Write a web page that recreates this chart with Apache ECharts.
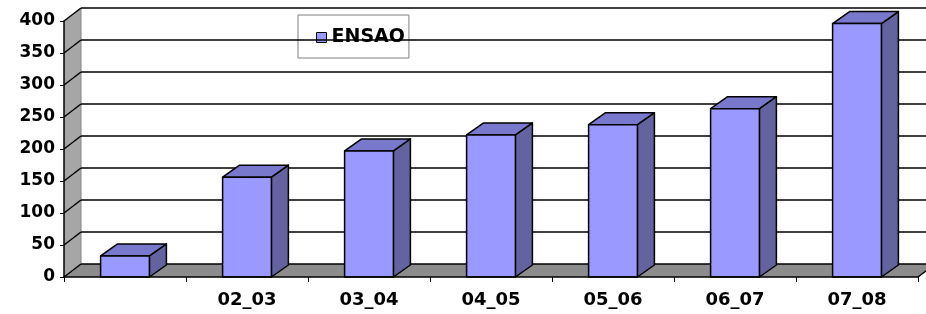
<!DOCTYPE html>
<html><head><meta charset="utf-8">
<script src="https://cdn.jsdelivr.net/npm/echarts@6/dist/echarts.min.js"></script>
<style>html,body{margin:0;padding:0;background:#fff}#c{width:926px;height:314px}</style>
</head><body><div id="c"></div><script>
// data
const categories = ['', '02_03', '03_04', '04_05', '05_06', '06_07', '07_08'];
const ensao = [33, 156, 197, 222, 238, 263, 396];
const yTicks = [0, 50, 100, 150, 200, 250, 300, 350, 400];

const WALL_DX = 17, WALL_DY = 13;
const BAR_DX = 17, BAR_DY = 12;
const FONT = '"DejaVu Sans", Arial, sans-serif';

const chart = echarts.init(document.getElementById('c'), null, {renderer: 'canvas'});

function renderWalls(params, api) {
  const cs = params.coordSys;
  const l = cs.x, r = cs.x + cs.width, t = cs.y, b = cs.y + cs.height;
  return {
    type: 'group',
    children: [
      {type: 'polygon', shape: {points: [[l, b], [l, t], [l + WALL_DX, t - WALL_DY], [l + WALL_DX, b - WALL_DY]]},
       style: {fill: '#a6a6a6', stroke: null}},
      {type: 'polygon', shape: {points: [[l, b], [r, b], [r + WALL_DX, b - WALL_DY], [l + WALL_DX, b - WALL_DY]]},
       style: {fill: '#8c8c8c', stroke: null}},
      {type: 'line', shape: {x1: r, y1: b, x2: r + WALL_DX, y2: b - WALL_DY}, style: {stroke: '#000', lineWidth: 1.5}},
      {type: 'line', shape: {x1: l + WALL_DX, y1: t - WALL_DY, x2: l + WALL_DX, y2: b - WALL_DY}, style: {stroke: '#888', lineWidth: 1}}
    ]
  };
}

function renderGrid(params, api) {
  const cs = params.coordSys;
  const l = cs.x, r = cs.x + cs.width;
  const y = api.coord([0, api.value(1)])[1];
  return {
    type: 'group',
    children: [
      {type: 'line', shape: {x1: l, y1: y, x2: l + WALL_DX, y2: y - WALL_DY}, style: {stroke: '#000', lineWidth: 1.5}},
      {type: 'polyline', shape: {points: [[l + WALL_DX, y - WALL_DY], [(l + r) / 2, y - WALL_DY], [r + WALL_DX + 20, y - WALL_DY]]}, style: {stroke: '#000', lineWidth: 1.5, fill: null}}
    ]
  };
}

function renderBar(params, api) {
  const idx = api.value(0), v = api.value(1);
  const p0 = api.coord([idx, 0]);
  const p1 = api.coord([idx, v]);
  const band = api.size([1, 0])[0];
  const w = band * 0.4;
  const lft = p0[0] - w / 2, rgt = p0[0] + w / 2, top = p1[1], bot = p0[1];
  const st = {stroke: '#000', lineWidth: 1.5, lineJoin: 'round'};
  return {
    type: 'group',
    children: [
      {type: 'polygon', shape: {points: [[rgt, top], [rgt + BAR_DX, top - BAR_DY], [rgt + BAR_DX, bot - BAR_DY], [rgt, bot]]},
       style: Object.assign({fill: '#63639f'}, st)},
      {type: 'polygon', shape: {points: [[lft, top], [rgt, top], [rgt + BAR_DX, top - BAR_DY], [lft + BAR_DX, top - BAR_DY]]},
       style: Object.assign({fill: '#7878cc'}, st)},
      {type: 'rect', shape: {x: lft, y: top, width: w, height: bot - top},
       style: Object.assign({fill: '#9999ff'}, st)}
    ]
  };
}

const option = {
  animation: false,
  backgroundColor: '#fff',
  grid: {left: 64, right: 8, top: 21, bottom: 37},
  legend: {
    data: [{name: 'ENSAO', icon: 'rect'}],
    left: 298, top: 15, z: 0,
    padding: [13, 4, 11, 18],
    backgroundColor: 'transparent',
    borderColor: '#808080', borderWidth: 1,
    itemWidth: 10, itemHeight: 10,
    itemStyle: {borderColor: '#000', borderWidth: 1},
    textStyle: {fontFamily: FONT, fontWeight: 'bold', fontSize: 19, color: '#000'}
  },
  xAxis: {
    type: 'category', data: categories, boundaryGap: true, z: 10,
    axisLine: {show: true, lineStyle: {color: '#000', width: 1.5}},
    axisTick: {show: true, alignWithLabel: false, length: 5, lineStyle: {color: '#000', width: 1}},
    axisLabel: {fontFamily: FONT, fontWeight: 'bold', fontSize: 18, color: '#000', margin: 14, interval: 0},
    splitLine: {show: false}
  },
  yAxis: {
    type: 'value', min: 0, max: 400, interval: 50, z: 10,
    axisLine: {show: true, lineStyle: {color: '#000', width: 1.5}},
    axisTick: {show: true, length: 4, lineStyle: {color: '#000', width: 1}},
    axisLabel: {fontFamily: FONT, fontWeight: 'bold', fontSize: 17, color: '#000', margin: 9},
    splitLine: {show: false}
  },
  series: [
    {type: 'custom', name: 'walls', renderItem: renderWalls, data: [[0, 0]], z: 1, silent: true},
    {type: 'custom', name: 'grid', renderItem: renderGrid, data: yTicks.map(t => [0, t]), z: 2, silent: true},
    {type: 'custom', name: 'ENSAO', renderItem: renderBar, itemStyle: {color: '#9999ff'},
     data: ensao.map((v, i) => [i, v]), z: 3}
  ]
};
chart.setOption(option);
</script></body></html>
